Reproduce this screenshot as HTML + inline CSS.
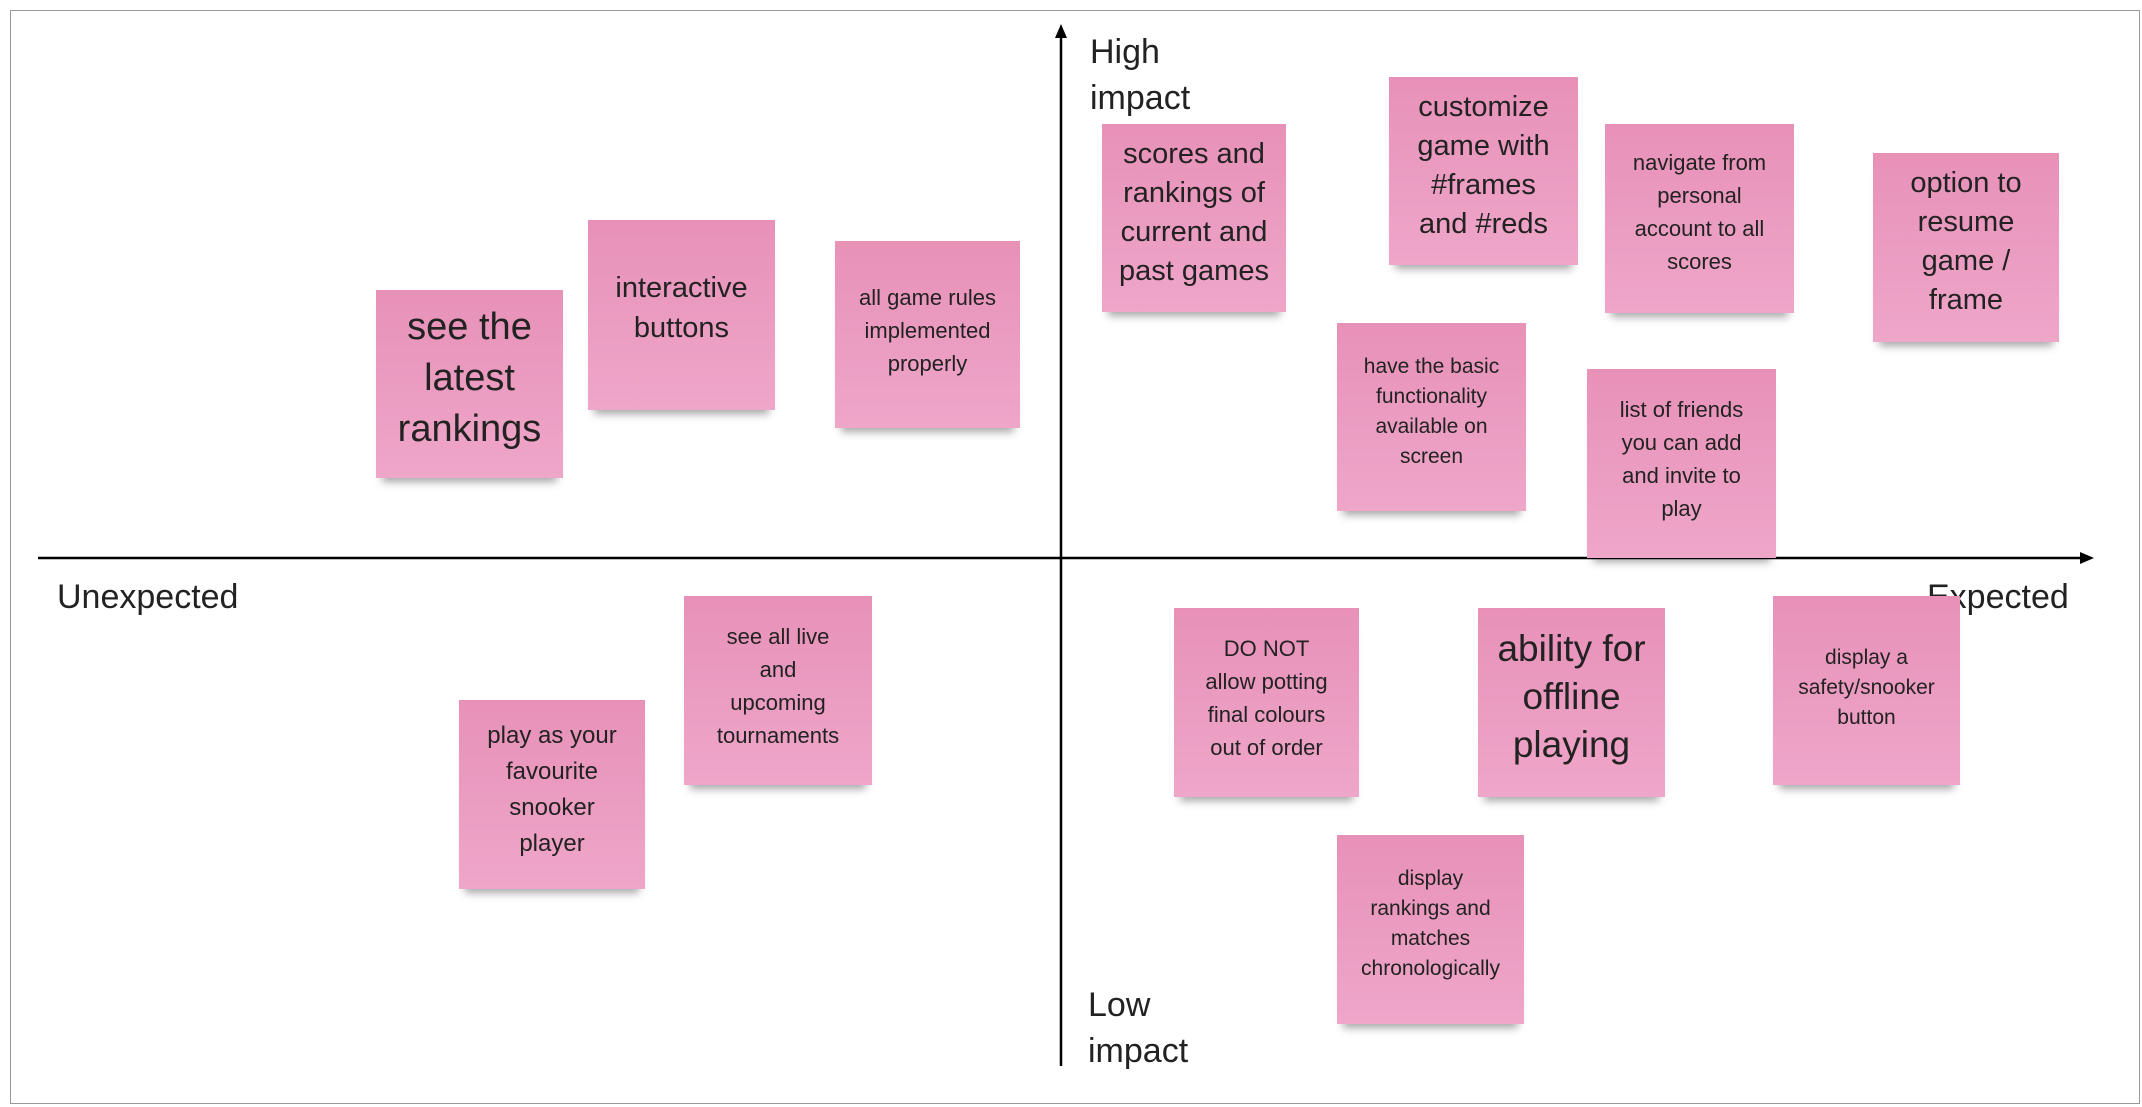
<!DOCTYPE html>
<html><head><meta charset="utf-8"><style>
body{margin:0;width:2142px;height:1107px;background:#fff;position:relative;overflow:hidden;font-family:"Liberation Sans","DejaVu Sans",sans-serif;color:#222}
.frame{position:absolute;left:10px;top:10px;width:2128px;height:1092px;border:1.5px solid #999}
.n{position:absolute;background:linear-gradient(#e891b8,#eea6c9);text-align:center;box-sizing:border-box;box-shadow:0 10px 8px -6px rgba(0,0,0,.35);white-space:nowrap}
.l{position:absolute;font-size:34px;line-height:46px;color:#222}
</style></head><body>
<div class="frame"></div>
<svg width="2142" height="1107" style="position:absolute;left:0;top:0">
<line x1="38" y1="558" x2="2082" y2="558" stroke="#000" stroke-width="2.5"/>
<polygon points="2094,558 2080,552 2080,564" fill="#000"/>
<line x1="1061" y1="1066" x2="1061" y2="36" stroke="#000" stroke-width="2.5"/>
<polygon points="1061,24 1055,38 1067,38" fill="#000"/>
</svg>
<div class="l" style="left:57px;top:574px">Unexpected</div>
<div class="l" style="left:1927px;top:574px">Expected</div>
<div class="l" style="left:1090px;top:29px">High<br>impact</div>
<div class="l" style="left:1088px;top:982px">Low<br>impact</div>

<div class="n" style="left:376px;top:290px;width:187px;height:188px;font-size:38px;line-height:51px;padding-top:12px">see the<br>latest<br>rankings</div>
<div class="n" style="left:588px;top:220px;width:187px;height:190px;font-size:29px;line-height:40px;padding-top:48px">interactive<br>buttons</div>
<div class="n" style="left:835px;top:241px;width:185px;height:187px;font-size:22px;line-height:33px;padding-top:40px">all game rules<br>implemented<br>properly</div>
<div class="n" style="left:459px;top:700px;width:186px;height:189px;font-size:24px;line-height:36px;padding-top:18px">play as your<br>favourite<br>snooker<br>player</div>
<div class="n" style="left:684px;top:596px;width:188px;height:189px;font-size:22px;line-height:33px;padding-top:24px">see all live<br>and<br>upcoming<br>tournaments</div>

<div class="n" style="left:1102px;top:124px;width:184px;height:188px;font-size:29px;line-height:39px;padding-top:11px">scores and<br>rankings of<br>current and<br>past games</div>
<div class="n" style="left:1389px;top:77px;width:189px;height:188px;font-size:29px;line-height:39px;padding-top:11px">customize<br>game with<br>#frames<br>and #reds</div>
<div class="n" style="left:1605px;top:124px;width:189px;height:189px;font-size:22px;line-height:33px;padding-top:22px">navigate from<br>personal<br>account to all<br>scores</div>
<div class="n" style="left:1873px;top:153px;width:186px;height:189px;font-size:29px;line-height:39px;padding-top:11px">option to<br>resume<br>game /<br>frame</div>
<div class="n" style="left:1337px;top:323px;width:189px;height:188px;font-size:21px;line-height:30px;padding-top:29px">have the basic<br>functionality<br>available on<br>screen</div>
<div class="n" style="left:1587px;top:369px;width:189px;height:189px;font-size:22px;line-height:33px;padding-top:24px">list of friends<br>you can add<br>and invite to<br>play</div>
<div class="n" style="left:1174px;top:608px;width:185px;height:189px;font-size:22px;line-height:33px;padding-top:24px">DO NOT<br>allow potting<br>final colours<br>out of order</div>
<div class="n" style="left:1478px;top:608px;width:187px;height:189px;font-size:37px;line-height:48px;padding-top:17px">ability for<br>offline<br>playing</div>
<div class="n" style="left:1773px;top:596px;width:187px;height:189px;font-size:21px;line-height:30px;padding-top:47px">display a<br>safety/snooker<br>button</div>
<div class="n" style="left:1337px;top:835px;width:187px;height:189px;font-size:21px;line-height:30px;padding-top:29px">display<br>rankings and<br>matches<br>chronologically</div>
</body></html>
